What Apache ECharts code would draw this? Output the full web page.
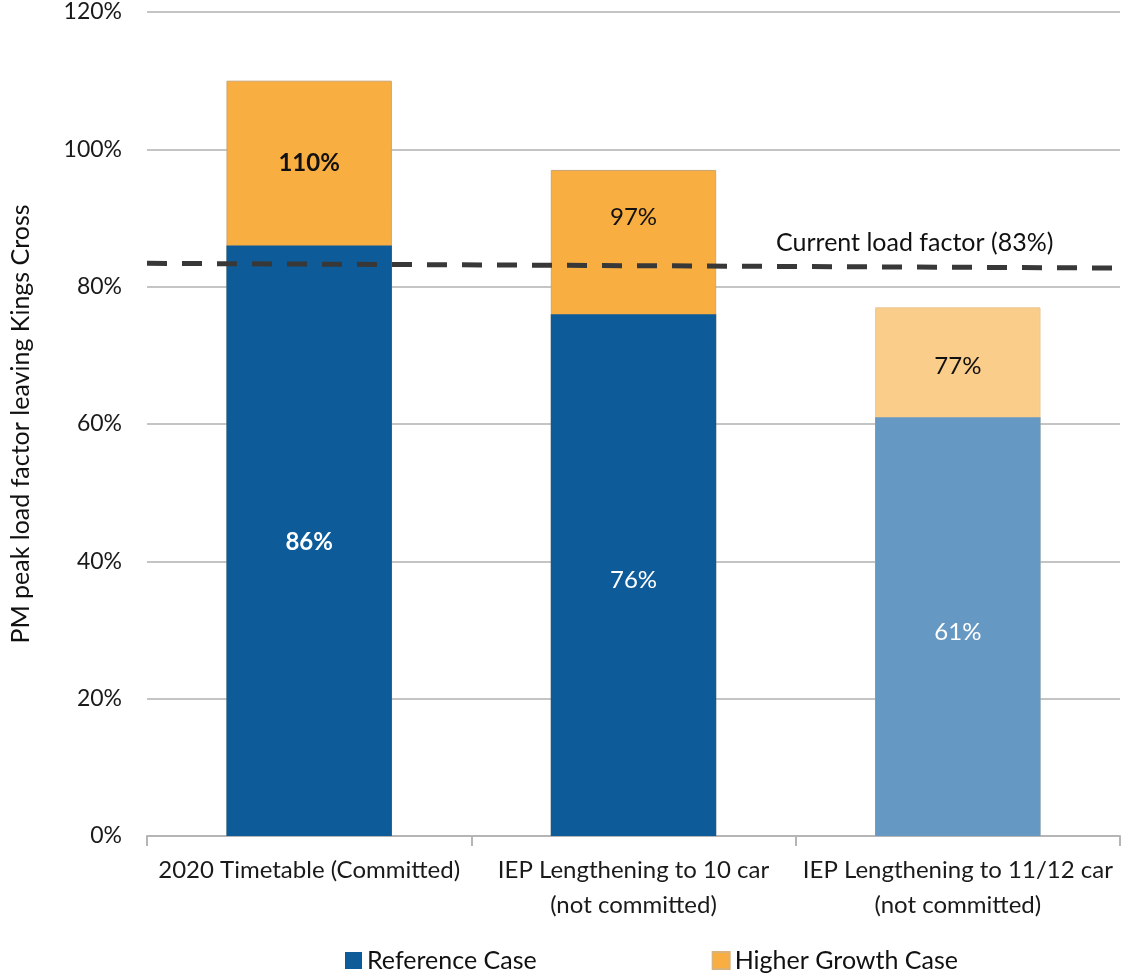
<!DOCTYPE html>
<html>
<head>
<meta charset="utf-8">
<script src="https://cdn.jsdelivr.net/npm/echarts@6/dist/echarts.min.js"></script>
<style>
  html, body { margin: 0; padding: 0; background: #fff; }
  #chart { width: 1135px; height: 980px; }
</style>
</head>
<body>
<div id="chart"></div>
<script>
// Scenario categories along the x axis
const categories = [
  '2020 Timetable (Committed)',
  'IEP Lengthening to 10 car\n(not committed)',
  'IEP Lengthening to 11/12 car\n(not committed)'
];
// PM peak load factor (%) for each case
const referenceCase = [86, 76, 61];
const higherGrowthCase = [110, 97, 77];
// Current load factor reference line (start / end level, %)
const currentLoad = [83.4, 82.7];
const currentLoadLabel = 'Current load factor (83%)';
const yTicks = [0, 20, 40, 60, 80, 100, 120];

const FONT = 'Lato, "Open Sans", sans-serif';
const blue = ['#0D5B99', '#0D5B99', '#6598C2'];
const orange = ['#F9AE41', '#F9AE41', '#FACD8A'];
const orangeLabelGap = [71, 35, 47];
const blueLabelOffset = [2, 5, 6];

const chart = echarts.init(document.getElementById('chart'), null, { renderer: 'canvas' });

chart.setOption({
  animation: false,
  textStyle: { fontFamily: FONT },
  grid: { left: 141, right: 15, top: 12, bottom: 144, containLabel: false },
  legend: {
    bottom: 2,
    left: 340,
    itemWidth: 17,
    itemHeight: 17,
    itemGap: 175,
    icon: 'rect',
    textStyle: { fontFamily: FONT, fontSize: 25, color: '#111' },
    data: ['Reference Case', 'Higher Growth Case']
  },
  xAxis: [
    {
      type: 'category',
      data: categories,
      boundaryGap: true,
      axisLine: { lineStyle: { color: '#b5b5b5', width: 2 } },
      axisTick: { show: true, length: 10, lineStyle: { color: '#b5b5b5', width: 2 } },
      axisLabel: { fontSize: 24, color: '#1a1a1a', margin: 17, lineHeight: 35, fontFamily: FONT, interval: 0 }
    },
    {
      type: 'value', min: 0, max: 1, show: false
    }
  ],
  yAxis: {
    type: 'value',
    min: yTicks[0],
    max: yTicks[yTicks.length - 1],
    interval: 20,
    name: 'PM peak load factor leaving Kings Cross',
    nameLocation: 'middle',
    nameGap: 114,
    nameTextStyle: { fontSize: 25, color: '#111', fontFamily: FONT },
    axisLine: { show: false },
    axisTick: { show: false },
    axisLabel: { formatter: '{value}%', fontSize: 23, color: '#1a1a1a', margin: 25, fontFamily: FONT },
    splitLine: { lineStyle: { color: '#c4c4c4', width: 2 } }
  },
  series: [
    {
      name: 'Higher Growth Case',
      type: 'bar',
      barWidth: '51%',
      barGap: '-100%',
      z: 2,
      itemStyle: { color: orange[0], borderColor: '#d9b27a', borderWidth: 1 },
      data: higherGrowthCase.map((v, i) => ({
        value: v,
        itemStyle: { color: orange[i], borderColor: i === 2 ? '#e8c99a' : '#c9a574' },
        label: {
          show: true,
          position: 'insideTop',
          distance: orangeLabelGap[i],
          formatter: '{c}%',
          fontSize: 24,
          fontWeight: i === 0 ? 'bold' : 'normal',
          color: '#111',
          fontFamily: FONT
        }
      }))
    },
    {
      name: 'Reference Case',
      type: 'bar',
      barWidth: '51%',
      z: 3,
      itemStyle: { color: blue[0] },
      data: referenceCase.map((v, i) => ({
        value: v,
        itemStyle: { color: blue[i] },
        label: {
          show: true,
          position: 'inside',
          offset: [0, blueLabelOffset[i]],
          formatter: '{c}%',
          fontSize: 24,
          fontWeight: i === 0 ? 'bold' : 'normal',
          color: '#ffffff',
          fontFamily: FONT
        }
      }))
    },
    {
      name: 'Current load factor',
      type: 'line',
      xAxisIndex: 1,
      z: 5,
      clip: false,
      symbol: 'none',
      silent: true,
      lineStyle: { color: '#383838', width: 5, type: [20, 15] },
      data: [[0, currentLoad[0]], [1.0164, currentLoad[1]]]
    }
  ],
  graphic: [
    {
      type: 'text',
      left: 776,
      top: 230,
      style: { text: currentLoadLabel, fontSize: 25, fill: '#111', fontFamily: FONT }
    }
  ]
});
</script>
</body>
</html>
